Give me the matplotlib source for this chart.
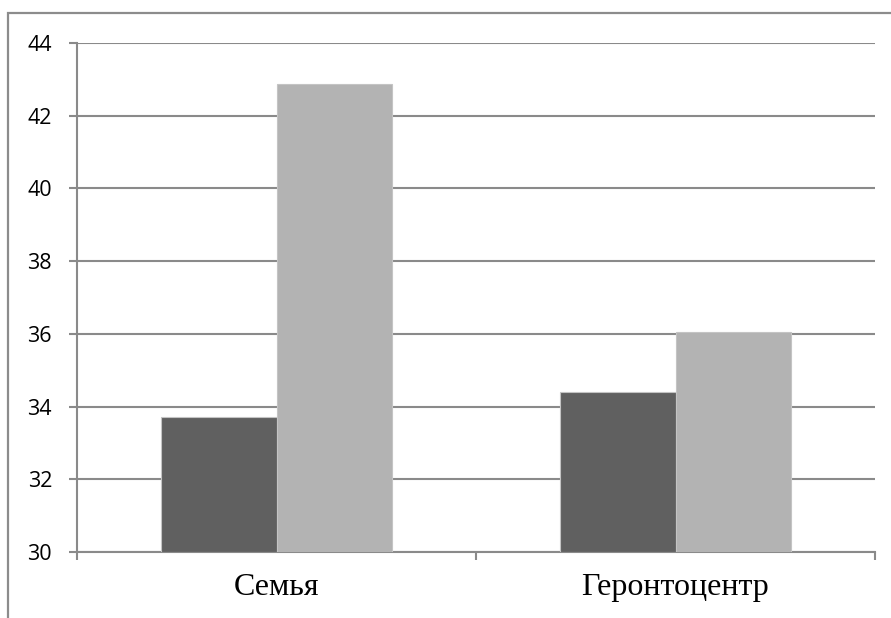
import matplotlib.pyplot as plt
from matplotlib.patches import Rectangle
import numpy as np

# Group labels and the two series per group
categories = ["Семья", "Геронтоцентр"]
series_dark = [33.7, 34.41]
series_light = [42.87, 36.05]
y_ticks = [30, 32, 34, 36, 38, 40, 42, 44]

fig = plt.figure(figsize=(8.91, 6.18), dpi=100)
ax = fig.add_axes([77 / 891, 1 - 552 / 618, (875 - 77) / 891, (552 - 43) / 618])

# Outer chart frame (runs off the right and bottom of the canvas)
fig.patches.append(Rectangle((8 / 891, -0.1), 1.2, (618 - 13) / 618 + 0.1,
                             transform=fig.transFigure, fill=False,
                             edgecolor="#8c8c8c", linewidth=1.6, zorder=0))

grid_col = "#8a8a8a"
x = np.arange(len(categories))
w = 0.289
ax.bar(x - w / 2, np.array(series_dark) - 30, w, bottom=30, color="#606060",
       edgecolor="#c4c4c4", linewidth=0.8, zorder=3)
ax.bar(x + w / 2, np.array(series_light) - 30, w, bottom=30, color="#b3b3b3",
       edgecolor="#c4c4c4", linewidth=0.8, zorder=3)

ax.set_xlim(-0.5, 1.5)
ax.set_ylim(30, 44)
ax.set_yticks(y_ticks)
ax.set_yticklabels([str(v) for v in y_ticks], fontsize=15.5, family="Open Sans")
ax.yaxis.grid(True, color=grid_col, linewidth=1.5, zorder=1)
ax.set_axisbelow(True)

# Category labels centred, tick marks on group boundaries
ax.set_xticks(x)
ax.set_xticklabels(categories, fontsize=23, family="Liberation Serif")
ax.set_xticks([-0.5, 0.5, 1.5], minor=True)
ax.tick_params(axis="x", which="major", length=0, pad=15)
ax.tick_params(axis="x", which="minor", length=6, width=1.5, color=grid_col)
ax.tick_params(axis="y", length=6, width=1.5, color=grid_col, pad=12)

for side in ["top", "right"]:
    ax.spines[side].set_visible(False)
for side in ["left", "bottom"]:
    ax.spines[side].set_color(grid_col)
    ax.spines[side].set_linewidth(1.5)

plt.savefig("out.png", dpi=100)
